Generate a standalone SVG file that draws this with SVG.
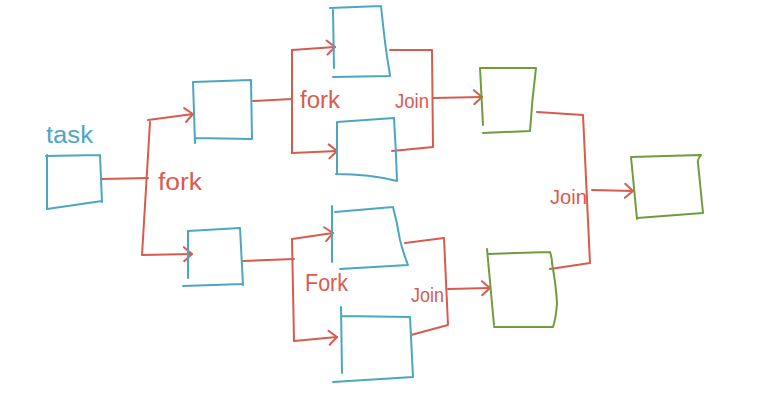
<svg xmlns="http://www.w3.org/2000/svg" width="763" height="400" viewBox="0 0 763 400">
<defs>
<style>
.b{fill:none;stroke:#4ba7c1;stroke-width:2;stroke-linecap:round;stroke-linejoin:round}
.g{fill:none;stroke:#6f9c3e;stroke-width:2;stroke-linecap:round;stroke-linejoin:round}
.c{fill:none;stroke:#d95b4e;stroke-width:2;stroke-linecap:round;stroke-linejoin:round}
.ca{marker-end:url(#arr)}
.lr{font-family:"Liberation Sans","DejaVu Sans",sans-serif;font-size:23px;fill:#d95b4e}
.lj{font-family:"Liberation Sans","DejaVu Sans",sans-serif;font-size:20px;fill:#d95b4e}
.lb{font-family:"Liberation Sans","DejaVu Sans",sans-serif;font-size:23px;fill:#4ba7c1}
</style>
<marker id="arr" markerUnits="userSpaceOnUse" markerWidth="14" markerHeight="20" refX="10" refY="9" orient="auto">
<path d="M2,2 L10,9 L2,16" fill="none" stroke="#d95b4e" stroke-width="2" stroke-linecap="round" stroke-linejoin="round"/>
</marker>
</defs>
<rect width="763" height="400" fill="#ffffff"/>
<g id="connectors">
<path class="c" d="M102,179 L148,178"/>
<path class="c" d="M150,122 L142,255"/>
<path class="c ca" d="M148,120 L193,114"/>
<path class="c ca" d="M142,255 L192,254"/>
<path class="c" d="M253,101 L292,99"/>
<path class="c" d="M292,50 L292,153"/>
<path class="c ca" d="M292,50 L335,47"/>
<path class="c ca" d="M292,153 L337,151"/>
<path class="c" d="M390,50 L432,50 L433,147 L392,151"/>
<path class="c ca" d="M433,98 L482,97"/>
<path class="c" d="M243,261 L294,259"/>
<path class="c" d="M292,239 L294,341"/>
<path class="c ca" d="M292,239 L333,233"/>
<path class="c ca" d="M294,341 L337,337"/>
<path class="c" d="M405,243 L444,238 L448,325 L411,335"/>
<path class="c ca" d="M448,289 L490,288"/>
<path class="c" d="M537,112 L583,115 L590,263 L550,269"/>
<path class="c ca" d="M592,190 L633,191"/>
<text class="lr" x="158" y="190" textLength="44" lengthAdjust="spacingAndGlyphs">fork</text>
<text class="lr" x="300" y="108" textLength="40" lengthAdjust="spacingAndGlyphs">fork</text>
<text class="lr" x="305" y="291" textLength="43" lengthAdjust="spacingAndGlyphs">Fork</text>
<text class="lj" x="395" y="108" textLength="34" lengthAdjust="spacingAndGlyphs">Join</text>
<text class="lj" x="411" y="302" textLength="33" lengthAdjust="spacingAndGlyphs">Join</text>
<text class="lj" x="550" y="204" textLength="37" lengthAdjust="spacingAndGlyphs">Join</text>
</g>
<g id="task">
<path class="b" d="M46,156 L100,155 M100,155 L102,202 M47,209 L102,201 M47,155 L47,209"/>
<text class="lb" x="46" y="143" textLength="47" lengthAdjust="spacingAndGlyphs">task</text>
</g>
<g id="task-a">
<path class="b" d="M193,82 L251,80 M251,80 L252,139 M195,138 L252,139 M193,82 L195,143"/>
</g>
<g id="task-b">
<path class="b" d="M188,231 L240,228 M240,228 L243,285 M183,286 L243,284 M188,231 L188,278"/>
</g>
<g id="task-a1">
<path class="b" d="M330,8 L381,6 M381,6 Q383,25 385,42 Q387,58 390,75 M333,77 L390,76 M333,10 L334,68"/>
</g>
<g id="task-a2">
<path class="b" d="M337,122 L394,118 M394,118 Q396,150 397,180 M336,174 Q370,174 397,181 M337,122 L337,173"/>
</g>
<g id="task-b1">
<path class="b" d="M335,212 L393,207 M393,207 Q397,222 400,240 Q403,252 408,265 M340,269 L408,265 M332,206 L332,262"/>
</g>
<g id="task-b2">
<path class="b" d="M342,316 L410,317 M410,317 L413,377 M333,382 L413,377 M341,307 L342,373"/>
</g>
<g id="join-a">
<path class="g" d="M480,68 L536,68 M536,68 Q532,100 530,131 M483,133 L530,131 M480,68 L483,125"/>
</g>
<g id="join-b">
<path class="g" d="M488,254 L550,252 M550,252 Q552,258 552,263 Q556,285 557,303 Q556,318 553,327 M494,327 L553,327 M487,249 L494,325"/>
</g>
<g id="final">
<path class="g" d="M631,157 L701,155 M701,155 Q697,160 698,163 L703,213 M637,218 L703,213 M631,157 L637,219"/>
</g>
</svg>
